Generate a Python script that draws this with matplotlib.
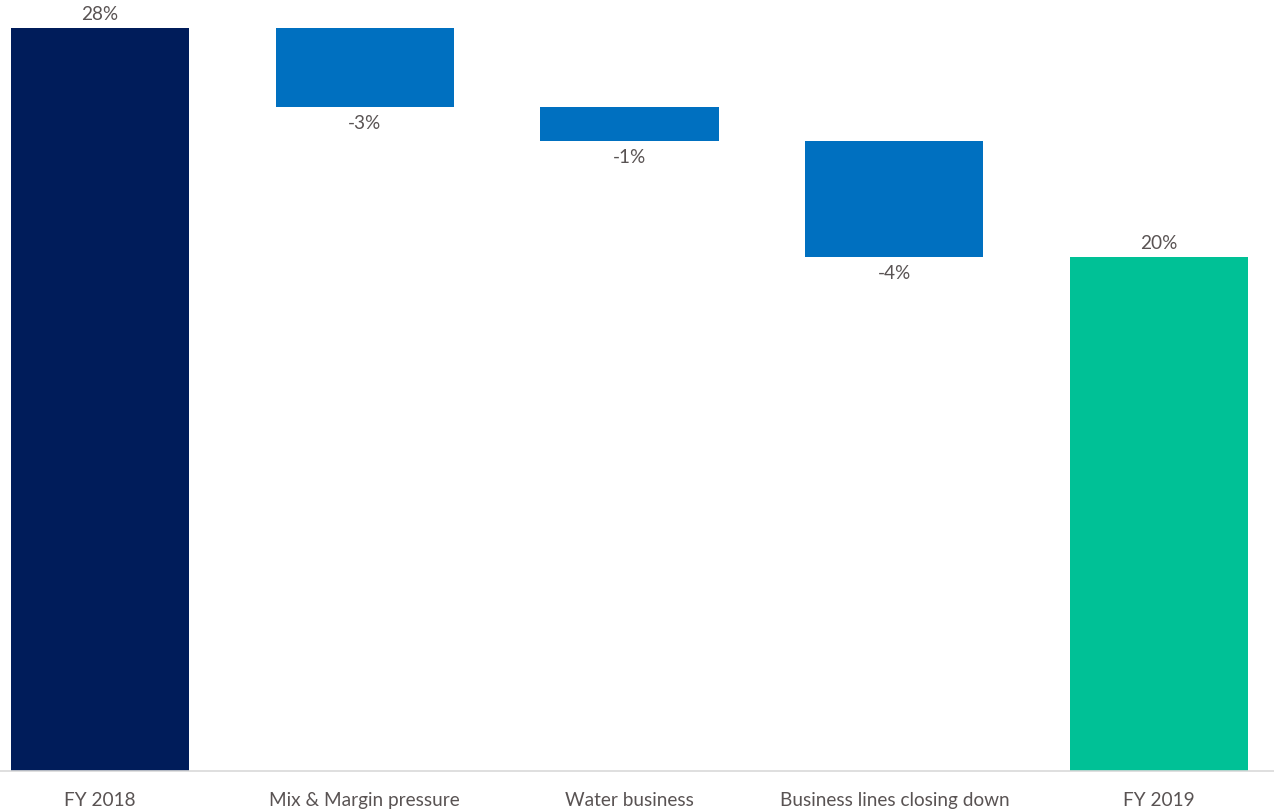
import matplotlib
matplotlib.use("Agg")
import matplotlib.pyplot as plt

# 瀑布图数据
categories = ["FY 2018", "Mix & Margin pressure", "Water business",
              "Business lines closing down", "FY 2019"]
changes = [28.0, -3.0, -1.25, -4.4]
value_labels = ["28%", "-3%", "-1%", "-4%", "20%"]

start_total = changes[0]
end_total = sum(changes)

text_color = "#595353"
fs = 13.7
plt.rcParams["font.family"] = ["Lato", "DejaVu Sans"]

fig = plt.figure(figsize=(12.74, 8.10), dpi=100)
ax = fig.add_axes([0, 39 / 810, 1, 771 / 810])

bar_w = 0.673
x = list(range(len(categories)))

# 起始总计
ax.bar(x[0], start_total, width=bar_w, color="#001C5A")
ax.text(x[0], start_total + 0.2, value_labels[0], ha="center", va="bottom",
        fontsize=fs, color=text_color)

# 中间增减
level = start_total
for i, delta in enumerate(changes[1:], start=1):
    bottom = level + delta
    ax.bar(x[i], -delta, bottom=bottom, width=bar_w, color="#0070C0")
    ax.text(x[i], bottom - 0.3, value_labels[i], ha="center", va="top",
            fontsize=fs, color=text_color)
    level = bottom

# 结束总计
ax.bar(x[-1], end_total, width=bar_w, color="#00C196")
ax.text(x[-1], end_total + 0.2, value_labels[-1], ha="center", va="bottom",
        fontsize=fs, color=text_color)

ax.set_xlim(-0.378, 4.434)
ax.set_ylim(0, 29.05)
ax.set_xticks(x)
ax.set_xticklabels(categories, fontsize=fs, color=text_color)
ax.tick_params(axis="x", length=0, pad=15)
ax.set_yticks([])
for side in ("top", "right", "left"):
    ax.spines[side].set_visible(False)
ax.spines["bottom"].set_color("#D9D9D9")
ax.spines["bottom"].set_linewidth(1.2)

fig.savefig("out.png", dpi=100)
